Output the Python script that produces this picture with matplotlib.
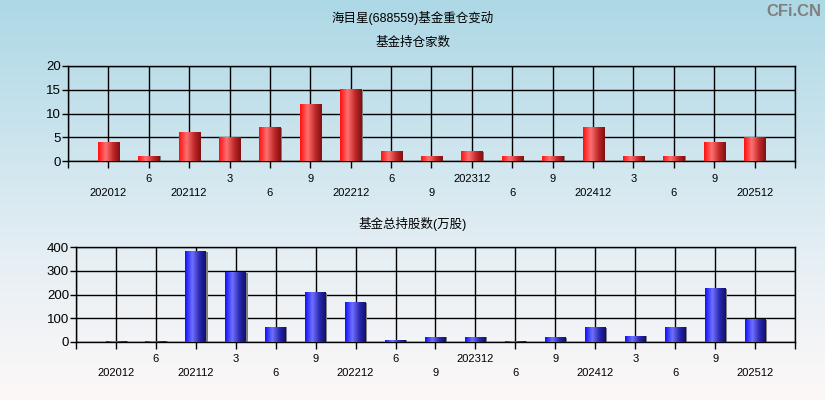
import numpy as np
import matplotlib
matplotlib.use("Agg")
import matplotlib.pyplot as plt
from matplotlib.colors import LinearSegmentedColormap

plt.rcParams['font.family'] = ['Liberation Sans', 'Noto Sans CJK SC', 'DejaVu Sans']

# data
periods = ["202012", "6", "202112", "3", "6", "9", "202212", "6", "9", "202312",
           "6", "9", "202412", "3", "6", "9", "202512"]
fund_count = [4, 1, 6, 5, 7, 12, 15, 2, 1, 2, 1, 1, 7, 1, 1, 4, 5]
fund_shares = [3, 3, 380, 291, 63, 207, 165, 8, 21, 21, 4, 18, 59, 25, 63, 224, 93]

fig = plt.figure(figsize=(8.25, 4), dpi=100)

# background gradient
bg = fig.add_axes([0, 0, 1, 1], zorder=-10)
bg_cmap = LinearSegmentedColormap.from_list("bg", [(0, "#fdf8f8"), (0.35, "#e6eff4"), (1, "#add8e6")])
bg.imshow(np.linspace(0, 1, 256).reshape(-1, 1), aspect="auto", cmap=bg_cmap,
          origin="lower", extent=[0, 1, 0, 1])
bg.axis("off")

fig.text(0.5, 0.955, "海目星(688559)基金重仓变动", ha="center", va="center", fontsize=9)
fig.text(0.5, 0.893, "基金持仓家数", ha="center", va="center", fontsize=9)
fig.text(0.5, 0.44, "基金总持股数(万股)", ha="center", va="center", fontsize=9)
fig.text(0.996, 0.972, "CFi.CN", ha="right", va="center", fontsize=12,
         color="#808080", fontweight="bold")

red_cmap = LinearSegmentedColormap.from_list(
    "r", [(0, "#ff1010"), (0.35, "#ff7070"), (0.7, "#c02828"), (1, "#801010")])
blue_cmap = LinearSegmentedColormap.from_list(
    "b", [(0, "#1010ff"), (0.35, "#7070ff"), (0.7, "#2828b0"), (1, "#101070")])
grad = np.linspace(0, 1, 64).reshape(1, -1)


def draw(ax, values, cmap, ymax, step):
    x = np.arange(len(values))
    w = 0.52
    ax.set_facecolor("none")
    ax.bar(x + 0.035, values, w, color="#808080", zorder=2)
    for xi, v in zip(x, values):
        ax.imshow(grad, cmap=cmap, aspect="auto", zorder=3,
                  extent=[xi - w / 2, xi + w / 2, 0, v])
    ax.set_xlim(-1, len(values))
    ax.set_ylim(0, ymax)
    ax.set_yticks(np.arange(0, ymax + 1, step))
    ticks = list(range(-1, len(values) + 1))
    labels = [""] + [("\n" + p if i % 2 == 0 else p) for i, p in enumerate(periods)] + [""]
    ax.set_xticks(ticks)
    ax.set_xticklabels(labels, fontsize=8, linespacing=1.5)
    ax.tick_params(axis="x", length=5, width=1, pad=4)
    ax.tick_params(axis="y", length=4, width=1, labelsize=9.5, pad=1)
    ax.grid(True, color="black", linewidth=1, zorder=1)
    ax.set_axisbelow(True)
    for s in ax.spines.values():
        s.set_color("black")
        s.set_linewidth(1)


ax1 = fig.add_axes([0.0824, 0.5975, 0.8812, 0.2375])
draw(ax1, fund_count, red_cmap, 20, 5)

ax2 = fig.add_axes([0.0921, 0.145, 0.8715, 0.2375])
draw(ax2, fund_shares, blue_cmap, 400, 100)

fig.savefig("out.png", dpi=100)
